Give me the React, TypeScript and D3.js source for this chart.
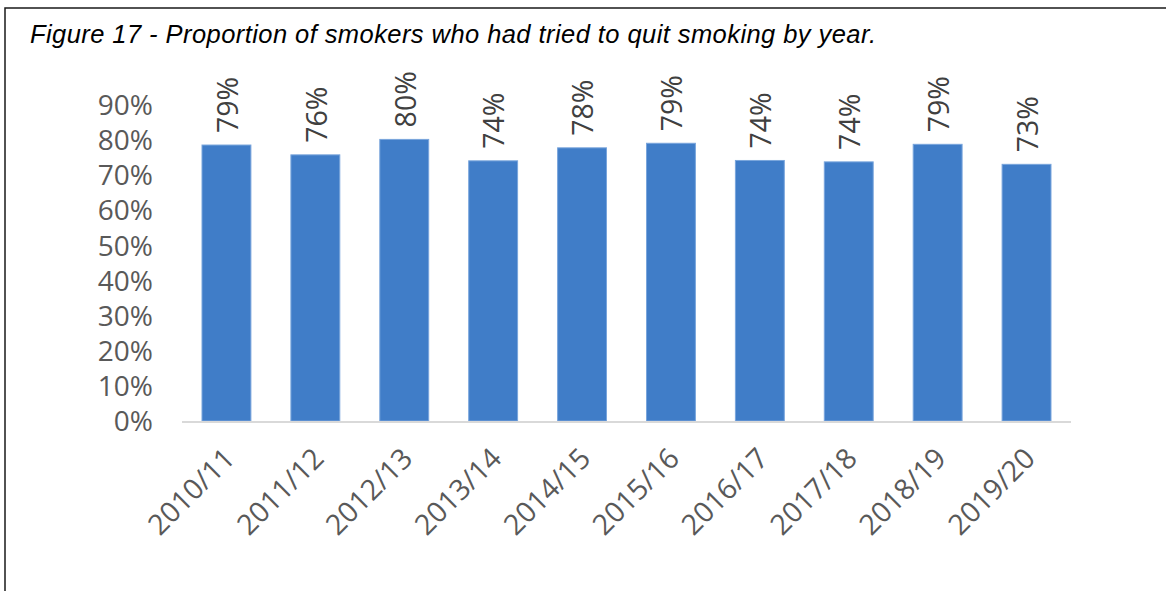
import React from "react";
import * as d3 from "d3";

const categories = ["2010/11", "2011/12", "2012/13", "2013/14", "2014/15", "2015/16", "2016/17", "2017/18", "2018/19", "2019/20"];
const values = [0.786, 0.758, 0.802, 0.741, 0.778, 0.791, 0.742, 0.738, 0.788, 0.731];
const yTicks = [0, 0.1, 0.2, 0.3, 0.4, 0.5, 0.6, 0.7, 0.8, 0.9];
const title = "Figure 17 - Proportion of smokers who had tried to quit smoking by year.";

const W = 1166;
const H = 591;
const plotLeft = 182;
const plotRight = 1071;
const plotBottom = 421;
const plotTop = 105;

export default function App() {
  const x = d3.scaleBand<string>().domain(categories).range([plotLeft, plotRight]).paddingInner(0.45).paddingOuter(0.225);
  const y = d3.scaleLinear().domain([0, 0.9]).range([plotBottom, plotTop]);
  const pct = d3.format(".0%");
  const font = "'Open Sans', sans-serif";
  return (
    <svg width={W} height={H} style={{ position: "absolute", left: 0, top: 0, background: "#fff" }}>
      <rect x={5} y={8} width={W + 20} height={H + 20} fill="none" stroke="#1a1a1a" strokeWidth={1.5} />
      <text x={30} y={42.5} fontFamily="'Liberation Sans', Arial, sans-serif" fontStyle="italic" fontSize={25.5} fill="#000" textLength={846} lengthAdjust="spacing">
        {title}
      </text>
      {yTicks.map((t) => (
        <text key={t} x={153} y={y(t)} dy="0.36em" textAnchor="end" fontFamily={font} fontSize={28} fill="#595959">
          {pct(t)}
        </text>
      ))}
      {categories.map((c, i) => (
        <rect key={c} x={x(c)} y={y(values[i])} width={x.bandwidth()} height={plotBottom - y(values[i])} fill="#407DC8" stroke="#79a5dc" strokeWidth={1} />
      ))}
      <line x1={plotLeft} x2={plotRight} y1={plotBottom + 1} y2={plotBottom + 1} stroke="#d9d9d9" strokeWidth={2} />
      {categories.map((c, i) => {
        const cx = (x(c) as number) + x.bandwidth() / 2;
        const ty = y(values[i]) - 12;
        return (
          <text key={c} transform={`translate(${cx + 1},${ty}) rotate(-90)`} dy="0.36em" textAnchor="start" fontFamily={font} fontSize={28.5} fill="#404040">
            {pct(values[i])}
          </text>
        );
      })}
      {categories.map((c) => {
        const cx = (x(c) as number) + x.bandwidth() / 2;
        return (
          <text key={c} transform={`translate(${cx - 4},${plotBottom + 25}) rotate(-45)`} textAnchor="end" dy="0.7em" fontFamily={font} fontSize={28.5} fill="#595959">
            {c}
          </text>
        );
      })}
    </svg>
  );
}
